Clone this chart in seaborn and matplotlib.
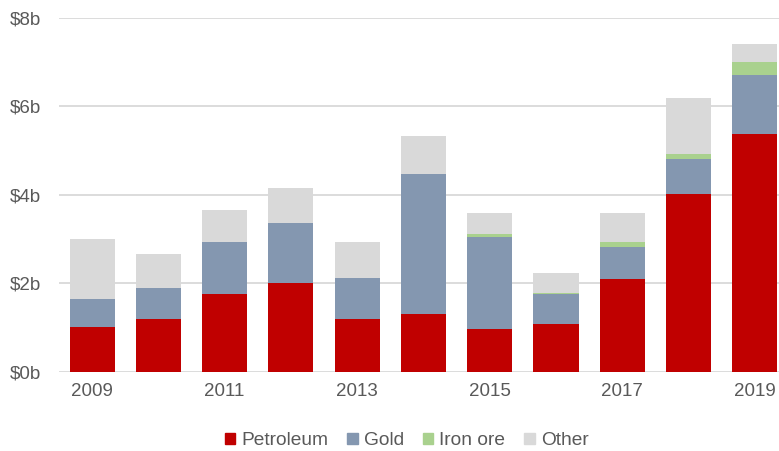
import numpy as np
import pandas as pd
import matplotlib
matplotlib.use('Agg')
import matplotlib.pyplot as plt
import matplotlib.patches as mpatches
import seaborn as sns

years = ['2009', '2010', '2011', '2012', '2013', '2014', '2015', '2016', '2017', '2018', '2019']
petroleum = [1.00, 1.19, 1.75, 2.00, 1.19, 1.31, 0.96, 1.08, 2.09, 4.02, 5.37]
gold = [0.64, 0.71, 1.18, 1.35, 0.93, 3.16, 2.09, 0.67, 0.73, 0.79, 1.33]
iron_ore = [0.00, 0.00, 0.00, 0.00, 0.00, 0.00, 0.07, 0.03, 0.11, 0.11, 0.30]
other = [1.35, 0.75, 0.72, 0.79, 0.82, 0.86, 0.46, 0.45, 0.65, 1.26, 0.41]
tick_years = ['2009', '', '2011', '', '2013', '', '2015', '', '2017', '', '2019']

series = ['Petroleum', 'Gold', 'Iron ore', 'Other']
colors = ['#C00000', '#8497B0', '#A9D18E', '#D9D9D9']

sns.set_style('white')
plt.rcParams['font.family'] = ['Liberation Sans', 'DejaVu Sans']

df = pd.DataFrame({'year': years, 'Petroleum': petroleum, 'Gold': gold,
                   'Iron ore': iron_ore, 'Other': other})
# cumulative tops, drawn from the tallest down so the stack shows through
cum = df[series].cumsum(axis=1)

fig = plt.figure(figsize=(7.79, 4.51), dpi=100)
ax = fig.add_axes([0.0757, 0.176, 0.9243, 0.785])

for name, color in reversed(list(zip(series, colors))):
    sns.barplot(x=df['year'], y=cum[name], color=color, width=0.68,
                linewidth=0, saturation=1, ax=ax)

ax.set_ylim(0, 8)
ax.set_xlim(-0.5, 10.365)
ax.set_yticks([0, 2, 4, 6, 8])
ax.set_yticklabels(['$0b', '$2b', '$4b', '$6b', '$8b'])
ax.set_xticks(range(len(years)))
ax.set_xticklabels(tick_years)
ax.set_xlabel('')
ax.set_ylabel('')
ax.yaxis.grid(True, color='#D9D9D9', linewidth=1.3)
ax.set_axisbelow(True)
sns.despine(ax=ax, left=True, bottom=True)
ax.tick_params(axis='both', length=0, labelsize=13.5, labelcolor='#595959')
ax.tick_params(axis='y', pad=13)
ax.tick_params(axis='x', pad=8)

handles = [mpatches.Patch(color=c, label=s) for s, c in zip(series, colors)]
fig.legend(handles=handles, loc='center', bbox_to_anchor=(0.522, 0.023),
           ncol=4, frameon=False, fontsize=13.8, handlelength=0.55,
           handleheight=0.55, handletextpad=0.3, columnspacing=1.0,
           labelcolor='#595959')

fig.savefig('out.png', dpi=100)
